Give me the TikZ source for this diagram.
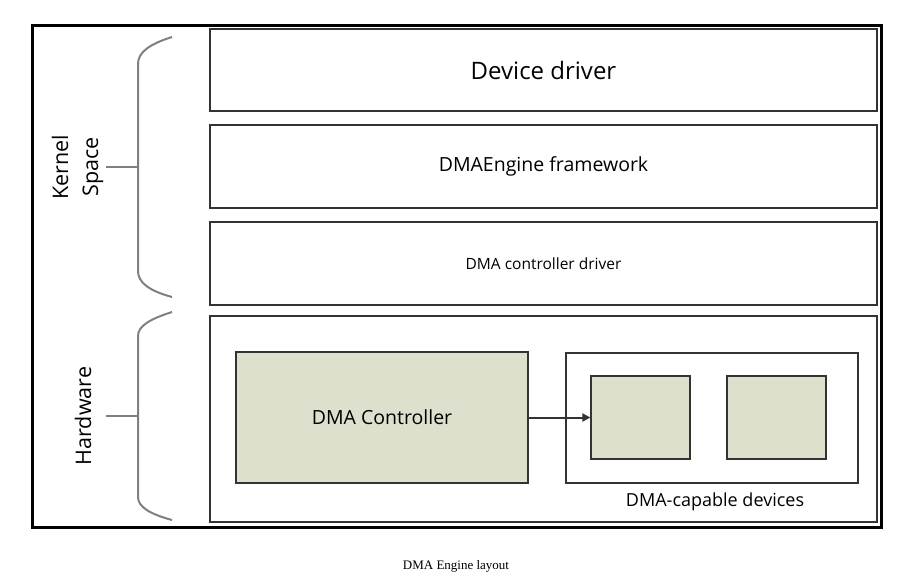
\documentclass[tikz,border=0pt]{standalone}
\usepackage{fontspec}
\setmainfont{Liberation Serif}
\newfontfamily\diagfont{Open Sans}
\definecolor{boxgreen}{RGB}{221,224,204}
\definecolor{boxline}{RGB}{51,51,51}
\definecolor{bracegray}{RGB}{128,128,128}
\usetikzlibrary{arrows.meta}

\begin{document}
\begin{tikzpicture}[x=1pt,y=-1pt]

%
% Styles
%
\tikzstyle{layer} = [rectangle,draw=boxline,line width=1.3pt,fill=white,inner sep=0pt,font=\diagfont]
\tikzstyle{unit} = [rectangle,draw=boxline,line width=1.3pt,fill=boxgreen,inner sep=0pt,font=\diagfont\fontsize{19.5}{23}\selectfont]
\tikzstyle{brace} = [draw=bracegray,line width=2pt]
\tikzstyle{side} = [rotate=90,font=\diagfont\fontsize{21.5}{25}\selectfont]

\useasboundingbox (0,0) rectangle (905,584);
\draw[line width=3pt] (32,25) rectangle (881,527);

\node[layer,minimum width=667pt,minimum height=82pt,font=\diagfont\fontsize{24}{28}\selectfont] (drv) at (543.5,70) {Device driver};
\node[layer,minimum width=667pt,minimum height=83pt,font=\diagfont\fontsize{19.5}{23}\selectfont] (fw) at (543.5,166.5) {DMAEngine framework};
\node[layer,minimum width=667pt,minimum height=83pt,font=\diagfont\fontsize{15.5}{18}\selectfont] (ctrldrv) at (543.5,263.5) {DMA controller driver};
\node[layer,minimum width=667pt,minimum height=206pt] (hw) at (543.5,419) {};

\node[unit,minimum width=292pt,minimum height=131pt] (ctrl) at (382,417.5) {DMA Controller};
\node[layer,minimum width=292pt,minimum height=130pt] (devs) at (712,418) {};
\node[unit,minimum width=99pt,minimum height=83pt] (dev1) at (640.5,417.5) {};
\node[unit,minimum width=99pt,minimum height=83pt] (dev2) at (776.5,417.5) {};
\node[font=\diagfont\fontsize{18}{21}\selectfont] (devlbl) at (715,502) {DMA-capable devices};

\draw[-{Triangle[length=8pt,width=8pt]},line width=2pt,draw=boxline] (ctrl) -- (dev1);

% braces
\draw[brace] (172,37) .. controls (150,44) and (138,52) .. (138,64) -- (138,271)
  .. controls (138,283) and (150,291) .. (172,297);
\draw[brace] (106,167) -- (138,167);
\draw[brace] (172,312) .. controls (150,319) and (138,326) .. (138,336) -- (138,497)
  .. controls (138,507) and (150,514) .. (172,520);
\draw[brace] (106,416) -- (138,416);

\node[side] (kernel) at (60,167) {Kernel};
\node[side] (space) at (93,167) {Space};
\node[side] (hwlbl) at (83,416) {Hardware};

\node[font=\fontsize{13}{15}\selectfont] (caption) at (456,566) {DMA Engine layout};

\end{tikzpicture}
\end{document}
